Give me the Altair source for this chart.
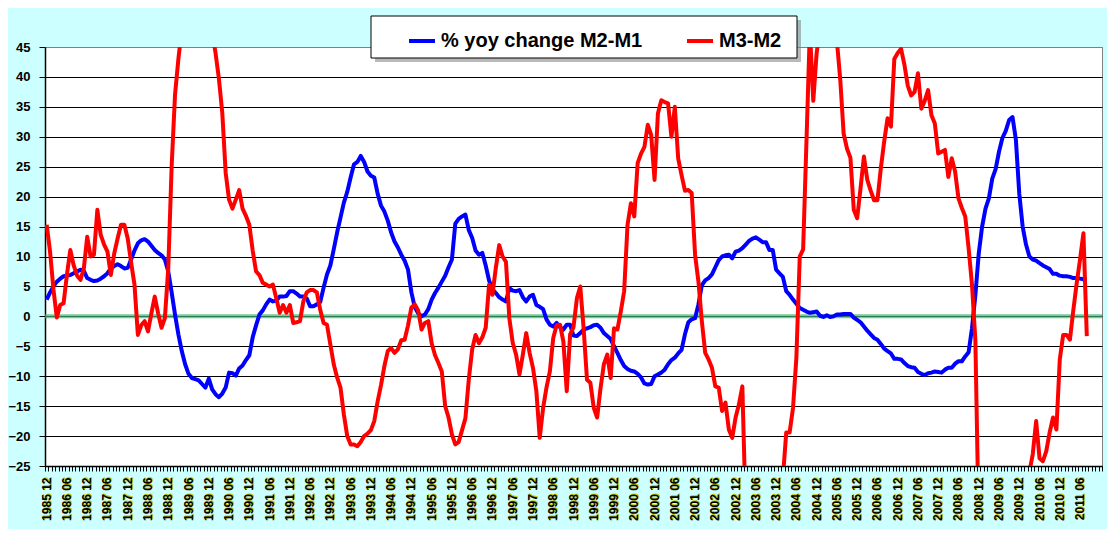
import altair as alt
import pandas as pd

# ---------------- data (monthly, first point = 1985 12) ----------------
N_SLOTS = 313  # category slots on the x axis: 1985 12 ... 2011 12

m2_m1 = [
    2.8, 4.0, 5.0, 5.8, 6.3, 6.7, 6.8, 6.9, 7.2, 7.5,
    7.8, 7.6, 6.4, 6.1, 5.9, 6.0, 6.3, 6.7, 7.2, 8.0,
    8.4, 8.7, 8.4, 8.0, 8.1, 9.5, 11.0, 12.2, 12.7, 12.9,
    12.5, 11.8, 11.1, 10.6, 10.2, 9.5, 7.5, 4.0, 0.3, -3.0,
    -5.8, -8.0, -9.6, -10.3, -10.5, -10.7, -11.3, -11.9, -10.4, -12.2,
    -13.0, -13.5, -12.9, -11.9, -9.4, -9.5, -9.9, -8.7, -8.2, -7.3,
    -6.5, -3.5, -1.5, 0.3, 1.0, 2.0, 2.8, 2.5, 2.6, 3.3,
    3.3, 3.4, 4.2, 4.2, 3.8, 3.3, 3.3, 3.0, 1.7, 1.7,
    2.0, 2.4, 4.8, 7.0, 8.5, 11.2, 14.0, 16.5, 19.0, 20.8,
    23.2, 25.4, 25.8, 26.8, 25.8, 24.2, 23.5, 23.2, 20.5, 18.5,
    17.5, 16.0, 14.0, 12.5, 11.5, 10.3, 9.3, 7.8, 4.0, 1.5,
    0.5, 0.0, 0.3, 1.2, 2.8, 3.9, 4.8, 5.8, 6.8, 8.2,
    9.5, 15.5, 16.3, 16.7, 17.0, 14.4, 13.1, 11.0, 10.3, 10.6,
    8.5, 6.0, 4.5, 3.9, 3.2, 2.8, 2.5, 4.7, 4.3, 4.2,
    4.4, 3.2, 2.5, 3.3, 3.6, 1.9, 1.6, 1.2, -0.5, -1.4,
    -1.7, -1.1, -1.8, -2.2, -1.4, -1.4, -3.2, -3.3, -2.8, -2.2,
    -2.0, -1.8, -1.5, -1.4, -1.9, -2.8, -3.3, -3.8, -5.0, -6.1,
    -7.3, -8.3, -8.8, -9.1, -9.2, -9.6, -10.2, -11.2, -11.4, -11.3,
    -10.0, -9.7, -9.4, -8.9, -8.0, -7.3, -6.9, -6.2, -5.6, -3.0,
    -1.0, -0.5, -0.3, 2.0, 5.2, 6.0, 6.4, 7.0, 8.2, 9.4,
    10.0, 10.2, 10.3, 9.7, 10.8, 11.0, 11.4, 12.0, 12.6, 13.0,
    13.2, 12.8, 12.4, 12.4, 11.1, 11.1, 7.8, 7.2, 6.6, 4.2,
    3.6, 2.8, 2.1, 1.4, 1.1, 0.8, 0.6, 0.7, 0.8, 0.1,
    -0.1, 0.2, -0.1, 0.0, 0.3, 0.3, 0.4, 0.4, 0.4, -0.2,
    -0.6, -1.0, -1.7, -2.4, -3.0, -3.6, -3.9, -4.6, -5.4, -5.8,
    -6.2, -7.1, -7.1, -7.2, -7.8, -8.3, -8.5, -8.6, -9.3, -9.6,
    -9.8, -9.5, -9.4, -9.2, -9.3, -9.4, -8.9, -8.6, -8.6, -7.9,
    -7.5, -7.5, -6.7, -6.0, -2.0, 3.5, 10.5, 15.0, 18.0, 19.7,
    23.0, 24.6, 27.5, 29.8, 31.0, 32.8, 33.3, 29.5, 20.5, 15.0,
    12.0, 10.0, 9.5, 9.3, 8.9, 8.5, 8.2, 7.9, 7.1, 7.1,
    6.8, 6.7, 6.7, 6.6, 6.4, 6.4, 6.3, 6.2, 6.1,
]

m3_m2 = [
    15.3, 10.8, 4.5, -0.2, 1.9, 2.2, 7.0, 11.1, 8.5, 6.8,
    6.1, 8.0, 13.3, 10.0, 10.3, 17.8, 13.6, 12.0, 10.8, 6.9,
    10.5, 13.0, 15.3, 15.3, 13.0, 9.0, 5.3, -3.1, -1.5, -0.8,
    -2.5, 0.5, 3.3, 0.5, -1.9, -0.3, 8.0, 25.0, 37.0, 43.0,
    48.0, 53.0, 57.0, 60.0, 61.0, 61.0, 59.0, 56.0, 52.0, 47.5,
    44.0, 39.7, 34.0, 24.0, 19.5, 18.0, 19.5, 21.1, 18.0, 16.8,
    15.3, 11.0, 7.5, 6.9, 5.6, 5.3, 5.0, 5.3, 3.0, 0.6,
    1.9, 0.6, 1.9, -1.1, -1.0, -0.8, 2.5, 4.0, 4.4, 4.4,
    4.0, 1.1, -1.1, -1.4, -4.7, -8.0, -10.2, -11.9, -16.4, -20.0,
    -21.4, -21.4, -21.7, -21.0, -20.0, -19.6, -19.0, -17.5, -14.2, -11.5,
    -8.3, -5.8, -5.3, -6.1, -5.5, -4.0, -3.9, -1.5, 1.5, 2.0,
    1.0, -2.2, -1.1, -0.8, -4.5, -6.5, -7.8, -9.2, -15.0, -16.9,
    -19.7, -21.4, -21.0, -19.0, -17.0, -10.5, -5.5, -3.1, -4.5, -3.5,
    -1.9, 5.3, 3.6, 8.1, 11.9, 10.0, 9.1, -0.3, -4.4, -6.4,
    -9.7, -6.4, -2.8, -6.1, -8.6, -12.5, -20.3, -15.3, -11.9, -9.2,
    -3.6, -1.5, -1.4, -4.2, -12.5, -3.0, -1.8, 3.0, 5.0, -2.0,
    -10.6, -11.1, -15.3, -16.9, -12.0, -8.0, -6.4, -10.3, -2.0, -2.2,
    0.8, 4.2, 15.3, 18.9, 16.7, 25.6, 27.2, 28.3, 32.0, 30.3,
    22.8, 33.9, 36.1, 35.8, 35.6, 30.0, 35.0, 26.4, 23.6, 21.0,
    21.1, 20.6, 10.3, 5.8, -0.8, -6.1, -7.2, -8.6, -11.7, -11.9,
    -15.8, -14.4, -18.9, -20.3, -16.9, -14.7, -11.7, -33.0, -40.0, -44.0,
    -46.0, -47.0, -47.0, -45.0, -42.0, -38.0, -34.0, -30.0, -27.0, -19.4,
    -19.4, -15.3, -6.9, 10.0, 11.2, 29.5, 48.0, 36.0, 44.0, 48.0,
    52.0, 55.0, 55.0, 52.0, 46.0, 39.5, 30.5, 28.0, 26.5, 17.8,
    16.4, 21.4, 26.7, 22.8, 21.0, 19.4, 19.4, 24.7, 29.2, 33.1,
    31.7, 43.0, 44.0, 44.7, 42.0, 38.5, 36.9, 37.5, 40.6, 34.7,
    36.0, 37.8, 33.6, 32.2, 27.2, 27.5, 27.8, 23.3, 26.4, 24.2,
    19.7, 18.1, 16.7, 11.4, 5.3, -4.0, -35.0, -42.0, -46.0, -48.0,
    -50.0, -50.0, -48.0, -46.0, -44.0, -42.0, -40.0, -37.0, -34.0, -31.0,
    -28.0, -26.0, -23.0, -17.5, -23.7, -24.2, -22.5, -19.4, -16.9, -18.9,
    -7.2, -3.1, -3.1, -3.9, 1.0, 5.5, 9.5, 13.9, -3.3,
]

SER1 = "% yoy change M2-M1"
SER2 = "M3-M2"

tick_idx = list(range(0, 307, 6))
tick_labels = [f"{1985 + (i + 11) // 12} {((i + 11) % 12) + 1:02d}" for i in tick_idx]

y_ticks = list(range(-25, 50, 5))

# ---------------- tables ----------------
df = pd.DataFrame({
    "idx": list(range(len(m2_m1))) + list(range(len(m3_m2))),
    "value": m2_m1 + m3_m2,
    "series": [SER1] * len(m2_m1) + [SER2] * len(m3_m2),
})
labels_df = pd.DataFrame({"idx": tick_idx, "label": tick_labels})
zero_df = pd.DataFrame({"value": [0]})
one = pd.DataFrame({"a": [0]})

W, H = 1057, 419
FONT = "Liberation Sans"

xscale = alt.Scale(domain=[-0.5, N_SLOTS - 0.5], nice=False, zero=False)
yscale = alt.Scale(domain=[-25, 45], nice=False, zero=False)

x_axis = alt.Axis(
    values=[k - 0.5 for k in range(N_SLOTS + 1)], labels=False, ticks=True,
    tickSize=5, tickColor="black", tickWidth=1, domainColor="black",
    domainWidth=1.5, grid=False, title=None,
)
y_axis = alt.Axis(
    values=y_ticks, grid=True,
    gridColor=alt.condition("datum.value == 45", alt.value("#808080"), alt.value("black")),
    gridWidth=1, tickSize=6, tickColor="black", domainColor="black", domainWidth=1.5,
    labelFont=FONT, labelFontSize=13, labelFontWeight="bold", labelColor="black",
    labelPadding=9, title=None,
)

X = alt.X("idx:Q", scale=xscale, axis=x_axis)
Y = alt.Y("value:Q", scale=yscale, axis=y_axis)

lines = alt.Chart(df).mark_line(strokeWidth=4, clip=True, strokeJoin="round").encode(
    x=X,
    y=Y,
    color=alt.Color(
        "series:N",
        scale=alt.Scale(domain=[SER1, SER2], range=["#0000FF", "#FF0000"]),
        legend=alt.Legend(
            orient="none", legendX=362, legendY=-21, direction="horizontal", title=None,
            symbolType="stroke", symbolSize=676, symbolStrokeWidth=4,
            labelFont=FONT, labelFontSize=20, labelFontWeight="bold", labelColor="black",
            labelOffset=4, columnPadding=36, padding=0, labelLimit=0, zindex=1,
        ),
    ),
)

zero_rule = alt.Chart(zero_df).mark_rule(color="#3CB371", strokeWidth=4, opacity=0.7).encode(
    y=Y
)

legend_shadow = alt.Chart(one).mark_rect(fill="#808080", opacity=0.55).encode(
    x=alt.value(330), x2=alt.value(756), y=alt.value(-27), y2=alt.value(15)
)
legend_box = alt.Chart(one).mark_rect(fill="white", stroke="black", strokeWidth=1).encode(
    x=alt.value(326), x2=alt.value(752), y=alt.value(-31), y2=alt.value(11)
)

label_shadow = alt.Chart(labels_df).mark_text(
    angle=270, align="right", baseline="middle", font=FONT, fontSize=12,
    fontWeight="bold", color="#C8C800", dx=1, dy=1,
).encode(
    x=X, y=alt.value(H + 11.5), text="label:N"
)
label_text = alt.Chart(labels_df).mark_text(
    angle=270, align="right", baseline="middle", font=FONT, fontSize=12,
    fontWeight="bold", color="black",
).encode(
    x=X, y=alt.value(H + 11.5), text="label:N"
)

chart = alt.layer(
    legend_shadow, legend_box, zero_rule, lines, label_shadow, label_text
).properties(
    width=W, height=H,
    padding={"left": 37, "top": 39, "right": 5, "bottom": 63},
    autosize=alt.AutoSizeParams(type="none"),
).configure(
    background="#CCFFFF"
).configure_view(
    fill="white", stroke="#808080", strokeWidth=1
)

chart.save("out.html", embed_options={"renderer": "svg", "actions": False})
